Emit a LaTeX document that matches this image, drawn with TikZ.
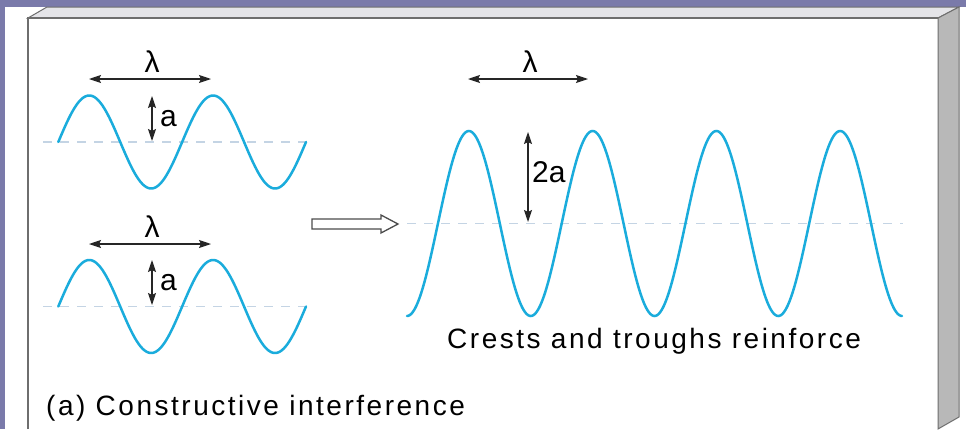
\documentclass[tikz,border=0pt]{standalone}
\usepackage{fontspec}
\setmainfont{Liberation Sans}
\newfontfamily\capfont[LetterSpace=9.0]{Liberation Sans}
\usetikzlibrary{arrows.meta}
\definecolor{bgpurple}{RGB}{122,122,170}
\definecolor{topgray}{RGB}{228,228,232}
\definecolor{sidegray}{RGB}{184,184,184}
\definecolor{framegray}{RGB}{110,110,110}
\definecolor{wavecol}{RGB}{26,172,220}
\definecolor{axiscol}{RGB}{196,212,228}
\tikzset{
  wave/.style={wavecol, line width=2.5pt, line cap=round},
  axisline/.style={axiscol, line width=1.2pt, dash pattern=on 9pt off 8pt},
  dim/.style={{Stealth[length=12pt,width=8pt,inset=2pt]}-{Stealth[length=12pt,width=8pt,inset=2pt]}, line width=1.1pt, black!85},
  lbl/.style={inner sep=0pt, font=\fontsize{30}{32}\selectfont, text=black},
  captxt/.style={inner sep=0pt, font=\capfont\fontsize{28}{30}\selectfont, text=black},
  hollow/.style={draw=black!70, fill=white, line width=1.3pt, line join=miter}
}
\begin{document}
\begin{tikzpicture}[x=1pt,y=-1pt]
\useasboundingbox (0,0) rectangle (966,429);
% background and box
\fill[bgpurple] (0,0) rectangle (966,429);
\fill[white] (5,7) rectangle (966,429);
\filldraw[fill=topgray, draw=framegray, line width=1pt] (28,18) -- (47,7) -- (959,7) -- (938,18) -- cycle;
\filldraw[fill=sidegray, draw=framegray, line width=1pt] (938,18) -- (959,7) -- (959,417) -- (938,429) -- cycle;
\draw[framegray, line width=1.4pt] (28,429) -- (28,18) -- (938,18);

% axes
\coordinate (ax1a) at (43,142);   \coordinate (ax1b) at (310,142);
\coordinate (ax2a) at (43,306.5); \coordinate (ax2b) at (310,306.5);
\coordinate (ax3a) at (407,223.5); \coordinate (ax3b) at (903,223.5);
\draw[axisline] (ax1a) -- (ax1b);
\draw[axisline] (ax2a) -- (ax2b);
\draw[axisline] (ax3a) -- (ax3b);

% waves
\draw[wave] plot[domain=0:720, samples=181, smooth] ({58.3+\x/360*123.85},{142-46.5*sin(\x)});
\draw[wave] plot[domain=0:720, samples=181, smooth] ({58.3+\x/360*123.85},{306.5-46.5*sin(\x)});
\draw[wave] plot[domain=0:1440, samples=361, smooth] ({407+\x/360*123.75},{223.5+92.5*cos(\x)});

% top-left dimensions
\coordinate (l1a) at (89,79);  \coordinate (l1b) at (211,79);
\draw[dim] (l1a) -- (l1b);
\node[lbl, anchor=base] (lam1) at (152,72) {λ};
\coordinate (a1a) at (152,96); \coordinate (a1b) at (152,141);
\draw[dim] (a1a) -- (a1b);
\node[lbl, anchor=base west] (amp1) at (160,126) {a};

% bottom-left dimensions
\coordinate (l2a) at (89,244);  \coordinate (l2b) at (211,244);
\draw[dim] (l2a) -- (l2b);
\node[lbl, anchor=base] (lam2) at (152,237) {λ};
\coordinate (a2a) at (152,260); \coordinate (a2b) at (152,305);
\draw[dim] (a2a) -- (a2b);
\node[lbl, anchor=base west] (amp2) at (160,290) {a};

% right dimensions
\coordinate (l3a) at (468,79);  \coordinate (l3b) at (588,79);
\draw[dim] (l3a) -- (l3b);
\node[lbl, anchor=base] (lam3) at (530,72) {λ};
\coordinate (a3a) at (528,132); \coordinate (a3b) at (528,222);
\draw[dim] (a3a) -- (a3b);
\node[lbl, anchor=base west] (amp3) at (532,182) {2a};

% hollow arrow
\draw[hollow] (312,219) -- (381,219) -- (381,215) -- (398,224) -- (381,233) -- (381,229) -- (312,229) -- cycle;

% texts
\node[captxt, anchor=base west] (crest) at (447,348) {Crests and troughs reinforce};
\node[captxt, anchor=base west] (caption) at (46,415) {(a) Constructive interference};
\end{tikzpicture}
\end{document}
